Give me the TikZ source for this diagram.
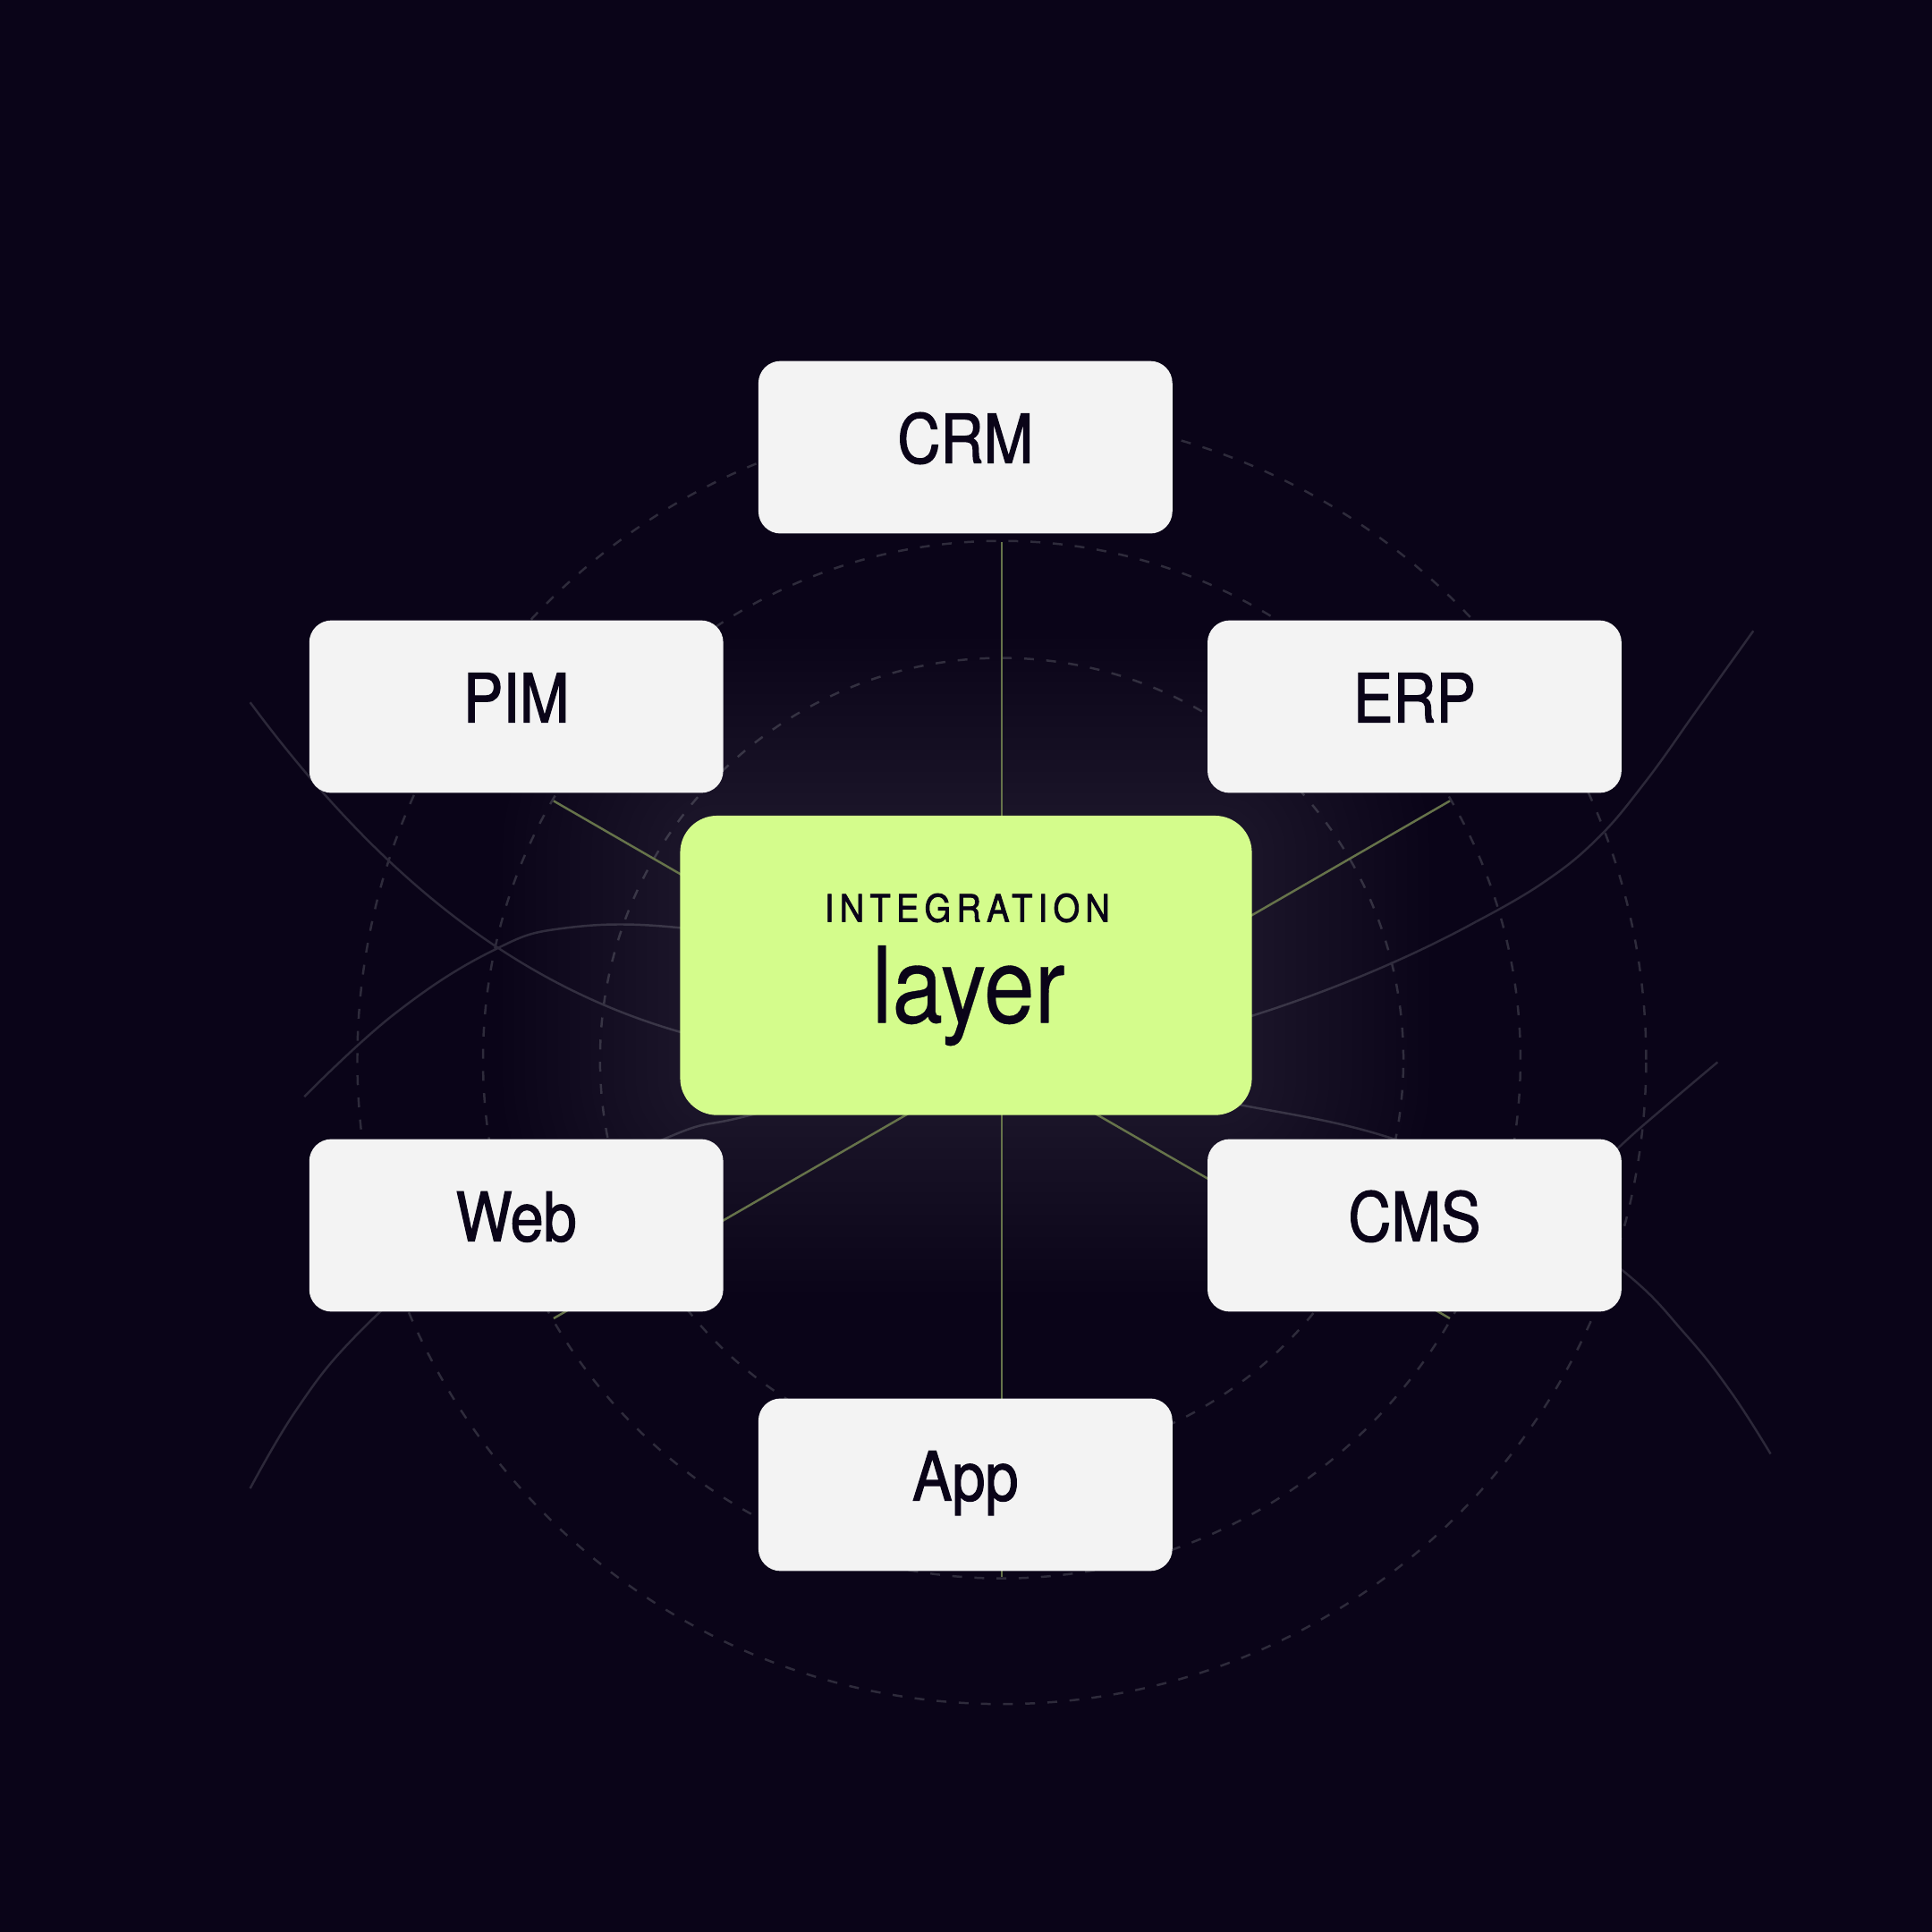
\documentclass[tikz,border=0pt]{standalone}
\usepackage{fontspec}
\setmainfont{TeX Gyre Heros}[FakeStretch=0.88, FakeBold=1.5]
\newfontfamily\layerfont{TeX Gyre Heros}[FakeStretch=0.86, FakeBold=0.3]
\newfontfamily\kickerfont{TeX Gyre Heros}[FakeStretch=0.9, FakeBold=2, LetterSpace=15]
\definecolor{bg}{HTML}{0A0418}
\definecolor{boxfill}{HTML}{F3F3F3}
\definecolor{ink}{HTML}{0A0418}
\definecolor{lime}{HTML}{D4FC8C}
\definecolor{spokec}{HTML}{66734A}
\definecolor{ringc}{HTML}{2E2B3B}
\definecolor{flowc}{HTML}{2C2839}
\begin{document}
\begin{tikzpicture}[x=1pt,y=-1pt,
  sysbox/.style={rectangle, rounded corners=18pt, fill=boxfill, minimum width=336pt,
    minimum height=140pt, inner sep=0pt, text=ink, font=\fontsize{55}{60}\selectfont,
    text height=39.5pt, text depth=14pt},
  hubbox/.style={rectangle, rounded corners=30pt, fill=lime, minimum width=464pt,
    minimum height=243pt, inner sep=0pt},
  ring/.style={draw=ringc, line width=1.8pt, dash pattern=on 8pt off 10pt},
  flow/.style={draw=flowc, line width=1.8pt},
  spoke/.style={draw=spokec, line width=1.8pt}]
\useasboundingbox (0,0) rectangle (1568,1568);
\fill[bg] (0,0) rectangle (1568,1568);

% centre of the radial layout
\coordinate (o) at (813,860);

% dashed orbits
\draw[ring] (o) circle[radius=326pt];
\draw[ring] (o) circle[radius=421pt];
\draw[ring] (o) circle[radius=523pt];

% faint flowing curves
\draw[flow] (203,570) .. controls (403,840) and (590,864) .. (790,864)
  .. controls (930,864) and (1098,803) .. (1198,748);
\draw[flow] plot[smooth, tension=0.7] coordinates {(1198,748) (1250,718) (1295,682) (1335,635) (1378,575) (1423,512)};
\draw[flow] plot[smooth, tension=0.7] coordinates {(203,1208) (240,1145) (285,1088) (350,1030) (420,985) (540,924) (601,907) (700,885) (805,876) (900,881) (1008,897) (1130,924) (1228,968) (1318,1032) (1368,1083) (1405,1130) (1437,1180)};
\draw[flow] plot[smooth, tension=0.7] coordinates {(247,890) (320,823) (399,772) (460,753) (552,753) (650,772)};
\draw[flow] plot[smooth, tension=0.7] coordinates {(1394,862) (1355,895) (1314,931) (1270,975)};

% glow around the hub
\foreach \i in {1,...,16}{
  \pgfmathsetmacro\gr{30+9*\i}
  \fill[white, fill opacity=0.0085, rounded corners=\gr pt]
    ({552-9*\i},{662-9*\i}) rectangle ({1016+9*\i},{905+9*\i});
}

% spoke end points
\coordinate (etop) at (813,440);
\coordinate (ebot) at (813,1280);
\coordinate (epim) at (449.3,650);
\coordinate (eerp) at (1176.7,650);
\coordinate (eweb) at (449.3,1070);
\coordinate (ecms) at (1176.7,1070);
\foreach \e in {etop,ebot,epim,eerp,eweb,ecms}{
  \draw[spoke] (o) -- (\e);
}

% system boxes
\node[sysbox] (crm) at (783.5,363) {CRM};
\node[sysbox] (pim) at (419,573.5) {PIM};
\node[sysbox] (erp) at (1148,573.5) {ERP};
\node[sysbox] (web) at (419,994.5) {Web};
\node[sysbox] (cms) at (1148,994.5) {CMS};
\node[sysbox] (app) at (783.5,1205) {App};

% hub
\node[hubbox] (hub) at (784,783.5) {};
\node[anchor=base, inner sep=0pt, text=ink, font=\kickerfont\fontsize{30.6}{32}\selectfont] (kicker) at (785,748) {INTEGRATION};
\node[anchor=base, inner sep=0pt, text=ink, font=\layerfont\fontsize{86}{90}\selectfont] (word) at (786,830) {layer};
\end{tikzpicture}
\end{document}
